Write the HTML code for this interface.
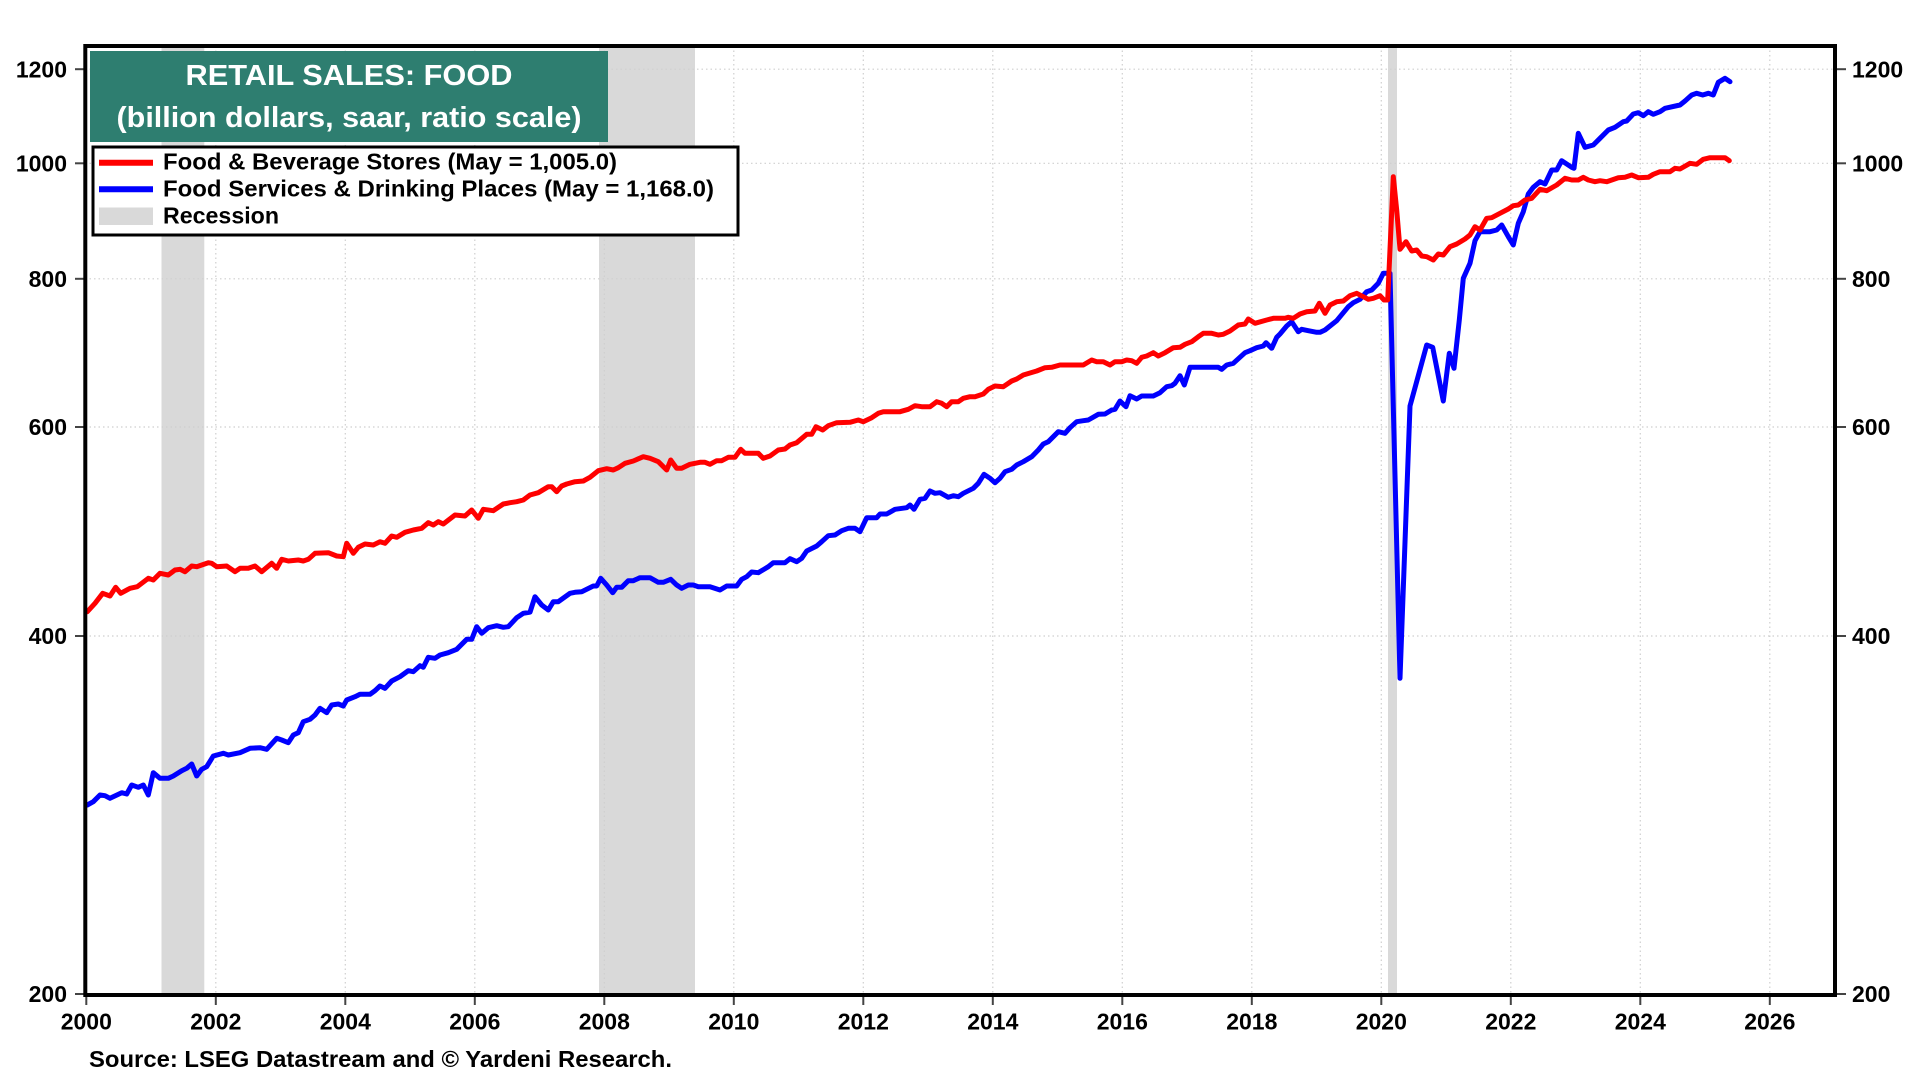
<!DOCTYPE html>
<html>
<head>
<meta charset="utf-8">
<style>
html,body{margin:0;padding:0;background:#fff;}
svg{display:block;}
text{font-family:"Liberation Sans",Arial,sans-serif;font-weight:bold;fill:#000;}
</style>
</head>
<body>
<svg width="1920" height="1080" viewBox="0 0 1920 1080" xmlns="http://www.w3.org/2000/svg">
<rect x="0" y="0" width="1920" height="1080" fill="#fff"/>
<defs>
<clipPath id="plot"><rect x="87" y="48" width="1746" height="945"/></clipPath>
</defs>
<!-- recession bands -->
<g fill="#d9d9d9">
<rect x="161.5" y="46" width="42.8" height="948"/>
<rect x="599" y="46" width="96" height="948"/>
<rect x="1388" y="46" width="9" height="948"/>
</g>
<!-- gridlines -->
<g stroke="#cfcfcf" stroke-width="1.2" stroke-dasharray="1.5 3" fill="none">
<line x1="85" y1="69.2" x2="1835" y2="69.2"/>
<line x1="85" y1="163.3" x2="1835" y2="163.3"/>
<line x1="85" y1="278.8" x2="1835" y2="278.8"/>
<line x1="85" y1="427" x2="1835" y2="427"/>
<line x1="85" y1="636" x2="1835" y2="636"/>
<line x1="215.8" y1="46" x2="215.8" y2="995"/>
<line x1="345.3" y1="46" x2="345.3" y2="995"/>
<line x1="474.8" y1="46" x2="474.8" y2="995"/>
<line x1="604.3" y1="46" x2="604.3" y2="995"/>
<line x1="733.8" y1="46" x2="733.8" y2="995"/>
<line x1="863.3" y1="46" x2="863.3" y2="995"/>
<line x1="992.8" y1="46" x2="992.8" y2="995"/>
<line x1="1122.3" y1="46" x2="1122.3" y2="995"/>
<line x1="1251.8" y1="46" x2="1251.8" y2="995"/>
<line x1="1381.3" y1="46" x2="1381.3" y2="995"/>
<line x1="1510.8" y1="46" x2="1510.8" y2="995"/>
<line x1="1640.3" y1="46" x2="1640.3" y2="995"/>
<line x1="1769.8" y1="46" x2="1769.8" y2="995"/>
</g>
<!-- data -->
<g clip-path="url(#plot)" fill="none" stroke-width="5" stroke-linejoin="round" stroke-linecap="round">
<polyline stroke="#0000ff" points="87.3,805 93.3,801.7 100,795 105,795.7 110,798.3 121.7,792.7 126.7,794 131.7,785 138.3,787.3 143.3,785 148.3,795 153.3,772.7 160,778.3 168.3,778.3 173.3,776 181.7,770.7 186.7,768.3 191.7,764 196.7,776 201.7,769.3 206.7,766.7 213.3,756 223.3,753.3 228.3,755 240,752.7 250,748.3 260,747.7 266.7,749.3 276.7,738.3 281.7,740 288.3,742.7 293.3,735 298.3,732.7 303.3,721.7 310,719.3 315,715 320,708.3 326.7,712.7 331.7,705 338.3,704 343.3,706 346.7,700 355,696.7 360,694.3 370,694.3 375,690.7 380,686 385,688.3 391.7,681 400,676.7 408.3,670.7 413.3,671.7 420,665.7 423.3,667.3 428.3,657.3 435,658.3 440,655 448.3,652.7 456.7,649.3 466.7,639.3 471.7,639.3 476.7,626.7 481.7,633.3 488.3,627.7 496.7,625.7 503.3,627.3 508.3,626.7 516.7,617.7 523.3,613.3 530,612.2 535,596.7 541.7,605 548.3,610 553.3,601.7 558.3,601.7 570,593.3 575,592.3 581.7,591.7 593.3,586 596.7,586 600.7,578.3 606.7,585 612.7,592.7 616.7,587.3 621.7,587.3 628.3,580.7 633.3,580.7 640,577.7 650,577.7 658.3,582.3 663.3,582.3 670.7,579.3 676.7,585 681.7,588.3 688.3,585 693.3,585 698.3,586.7 710,586.7 720,590 726.7,586 736.7,586 741.7,579.3 746.7,576.7 751.7,572 758.3,572.7 768.3,566.7 773.3,562.7 785,562.7 790,558.7 796.7,561.7 801.7,558.3 806.7,551 816.7,546 821.7,541.7 828.3,535.7 835,535 841.7,530.7 848.3,528.3 855,528.3 860,531.7 866.7,517.7 876.7,517.7 880,514 886.7,514 895,509.3 906.7,507.7 910,505 914,509.3 920,499.3 925,498.3 930,491 935,493.3 940,492.7 948.3,497.3 953.3,495.7 958.3,496.7 963.3,493.3 973.3,488.3 978.3,483.3 984,474.3 990,478.3 995,482.7 1000,478.3 1005,471.7 1011.7,469.3 1016.7,465 1023.3,461.7 1031.7,456.7 1038.3,450 1043.3,444 1048.3,441.7 1053.3,436.7 1058.3,431.7 1065,433.3 1070,427.7 1076.7,421.7 1083.3,420.7 1088.3,420 1098.3,414.3 1105,414 1111.7,410 1115,409.3 1120,401 1126,406.7 1130,395.7 1136.7,399 1141.7,396 1153.3,396 1160,392.7 1166.7,386.7 1171.7,385.7 1175,383.3 1180,375.7 1184.3,385 1190,367.3 1218.3,367.3 1221.7,369.3 1226.7,365 1233.3,363.3 1245,352.7 1250,350.7 1256.7,347.7 1263.3,346 1266,342.7 1271.7,348.3 1276.7,337.3 1280,334 1286.7,326 1291.7,321.7 1298.3,331.7 1301.7,329.3 1308.3,330.7 1316.7,332.3 1320,332.3 1325,330 1330,326 1336.7,320.7 1348.3,306.7 1353.3,302.7 1360,299.3 1366.7,291.7 1371.7,290 1378.3,283.3 1383.3,273.3 1390,273.3 1400,678.3 1410,406 1426.7,345 1432.7,347.3 1443.3,401 1449.3,353.3 1454,368.3 1459.3,320 1463.3,278.3 1470,263.3 1475,240.7 1480,231.7 1490,231.7 1496.7,230 1501.7,225 1508.3,236.7 1513.3,245 1518.3,223.3 1523.3,211.7 1528.3,194 1533.3,187.3 1540,181.7 1545,184 1551.7,170 1556.7,170 1561.7,160.7 1571.7,167.3 1574,168.3 1578.3,133.3 1585,147.3 1593.3,145 1600,138.3 1608.3,130 1615,127.3 1623.3,121.7 1626.7,121 1633.3,114 1638.3,112.7 1643.3,115.7 1648.3,111.7 1653.3,114.3 1660,111.7 1665,108.3 1680,105 1685,101 1691.7,95 1696.7,93.3 1702.7,95 1708.3,93.3 1713.3,95 1718.3,82.3 1725,78.3 1730,81.7"/>
<polyline stroke="#ff0000" points="87.3,611.7 95,603.3 102.7,593.3 110,596 115.7,587.3 120.7,593.3 130,588.3 137.3,586.7 148.3,578.3 153.3,580 160,573.3 168.3,575 175,570 180,569.3 185,571.7 191.7,566 196.7,566.7 208.3,562.7 211.7,563.3 216.7,566.7 226.7,566 235,571.7 240,568.3 248.3,568.3 255,566 261.7,571.7 271.7,563.3 276.7,568.3 281.7,559.3 288.3,561 298.3,560 303.3,561 308.3,559.3 315,553.3 328.3,552.7 336.7,556 343.3,556.7 346.7,543.3 353.3,553.3 358.3,547.3 365,544 373.3,545 380,541.7 385,543.3 391.7,536 396.7,537.3 405,532.3 413.3,530 421.7,528.3 428.3,522.7 433.3,525 438.3,521.7 443.3,524 455,515 465,516 471.7,510 478.3,518.3 483.3,509.3 493.3,510.7 503.3,504 510,502.7 516.7,501.7 523.3,500 530,495 538.3,492.7 548.3,486.7 551.7,486.7 556.7,491.7 561.7,486 566.7,484 575,481.7 583.3,481 590,477.3 598.3,470.7 606.7,468.7 613.3,470 618.3,467.7 625,463.3 633.3,461 643.3,456.7 650,458.3 658.3,461.7 666.7,470 670.7,460 676.7,468.3 681.7,468.3 690,464.3 700,462.3 705,462.3 710,464.3 716.7,460.7 721.7,460.7 728.3,457.3 735,457.3 740.7,449.3 745,453.3 758.3,453.3 763.3,458.3 770,456 778.3,450 785,449 790,445 796.7,442.7 806.7,434.3 811.7,434.3 816,426.7 822.7,430 828.3,425.7 836.7,422.7 850,422.3 858.3,420 863.3,421.7 871.7,417.7 878.3,413.3 883.3,411.7 900,411.7 908.3,409.3 915,405.7 921.7,406.7 930,406.7 936.7,401.7 941.7,403.3 946.7,406.7 951.7,401.7 958.3,401.7 963.3,398.3 970,396.7 975,396.7 983.3,394 988.3,389.3 995,386 1003.3,386.7 1011.7,381 1016.7,379 1023.3,375 1036.7,371 1045,367.7 1051.7,367.3 1060,365 1083.3,365 1091.7,360 1096.7,361.7 1103.3,361.7 1110,365 1115,361.7 1121.7,361.7 1126.7,360 1131.7,360.7 1136.7,363.3 1141.7,357.3 1146.7,356 1153.3,352.7 1158.3,356 1165,352.7 1173.3,347.7 1180,347.3 1185,344.3 1191.7,341.7 1198.3,336.7 1203.3,333.3 1211.7,333.3 1218.3,335 1223.3,334.3 1230,331 1238.3,325 1245,324 1248.3,319 1255,323.3 1266.7,320 1273.3,318.3 1285,318.3 1288.3,317.3 1293.3,318.3 1300,314 1306.7,311.7 1315,311 1319.3,303.3 1325,313.3 1330,305 1336.7,301.7 1343.3,301 1350,295.7 1356.7,293.3 1363.3,296.7 1368.3,299.3 1373.3,298.3 1380,295.7 1384,300 1387.7,300 1393.3,176.7 1396.7,210 1400,249.3 1406,241.7 1411.7,251 1416.7,250 1421.7,256 1426.7,256.7 1433.3,260 1438.3,254 1443.3,255 1450,246.7 1456.7,244 1465,239 1470,235 1475,226.7 1480,230 1486.7,218.3 1491.7,217.7 1500,213.3 1508.3,209 1513.3,205.7 1518.3,205 1525,200 1531.7,198.3 1540,189.3 1546.7,190.7 1556.7,185 1565,178.3 1571.7,180 1578.3,180 1583.3,177.3 1588.3,180 1595,181.7 1600,180.7 1606.7,181.7 1618.3,177.7 1625,177.3 1631.7,175 1638.3,177.7 1648.3,177.3 1653.3,174.3 1660,171.7 1670,171.7 1675,168.3 1680,169 1690,163.3 1696.7,164.3 1703.3,159.3 1710,157.7 1725,157.7 1729.3,160.7"/>
</g>
<!-- ticks -->
<g stroke="#444" stroke-width="2">
<line x1="75" y1="69.2" x2="84" y2="69.2"/>
<line x1="75" y1="163.3" x2="84" y2="163.3"/>
<line x1="75" y1="278.8" x2="84" y2="278.8"/>
<line x1="75" y1="427" x2="84" y2="427"/>
<line x1="75" y1="636" x2="84" y2="636"/>
<line x1="75" y1="994" x2="84" y2="994"/>
<line x1="1837" y1="69.2" x2="1846" y2="69.2"/>
<line x1="1837" y1="163.3" x2="1846" y2="163.3"/>
<line x1="1837" y1="278.8" x2="1846" y2="278.8"/>
<line x1="1837" y1="427" x2="1846" y2="427"/>
<line x1="1837" y1="636" x2="1846" y2="636"/>
<line x1="1837" y1="994" x2="1846" y2="994"/>
<line x1="86.3" y1="997" x2="86.3" y2="1005"/>
<line x1="215.8" y1="997" x2="215.8" y2="1005"/>
<line x1="345.3" y1="997" x2="345.3" y2="1005"/>
<line x1="474.8" y1="997" x2="474.8" y2="1005"/>
<line x1="604.3" y1="997" x2="604.3" y2="1005"/>
<line x1="733.8" y1="997" x2="733.8" y2="1005"/>
<line x1="863.3" y1="997" x2="863.3" y2="1005"/>
<line x1="992.8" y1="997" x2="992.8" y2="1005"/>
<line x1="1122.3" y1="997" x2="1122.3" y2="1005"/>
<line x1="1251.8" y1="997" x2="1251.8" y2="1005"/>
<line x1="1381.3" y1="997" x2="1381.3" y2="1005"/>
<line x1="1510.8" y1="997" x2="1510.8" y2="1005"/>
<line x1="1640.3" y1="997" x2="1640.3" y2="1005"/>
<line x1="1769.8" y1="997" x2="1769.8" y2="1005"/>
</g>
<!-- frame -->
<rect x="85.3" y="46" width="1749.7" height="949" fill="none" stroke="#000" stroke-width="4"/>
<!-- title box -->
<rect x="90" y="51" width="518" height="91" fill="#2e7e70"/>
<text x="349" y="85" font-size="29" text-anchor="middle" style="fill:#fff" textLength="327" lengthAdjust="spacingAndGlyphs">RETAIL SALES: FOOD</text>
<text x="349" y="127" font-size="29" text-anchor="middle" style="fill:#fff" textLength="465" lengthAdjust="spacingAndGlyphs">(billion dollars, saar, ratio scale)</text>
<!-- legend -->
<rect x="93" y="147" width="645" height="88" fill="#fff" stroke="#000" stroke-width="3"/>
<line x1="99" y1="162.7" x2="153" y2="162.7" stroke="#ff0000" stroke-width="6"/>
<line x1="99" y1="189.3" x2="153" y2="189.3" stroke="#0000ff" stroke-width="6"/>
<rect x="99" y="207.5" width="54" height="17.5" fill="#d9d9d9"/>
<text x="163" y="169.5" font-size="23" textLength="454" lengthAdjust="spacingAndGlyphs">Food &amp; Beverage Stores (May = 1,005.0)</text>
<text x="163" y="196.5" font-size="23" textLength="551" lengthAdjust="spacingAndGlyphs">Food Services &amp; Drinking Places (May = 1,168.0)</text>
<text x="163" y="223.5" font-size="23" textLength="116" lengthAdjust="spacingAndGlyphs">Recession</text>
<!-- y labels left -->
<g font-size="23" text-anchor="end">
<text x="67" y="77.5">1200</text>
<text x="67" y="171.5">1000</text>
<text x="67" y="287">800</text>
<text x="67" y="435">600</text>
<text x="67" y="644">400</text>
<text x="67" y="1002">200</text>
</g>
<g font-size="23" text-anchor="start">
<text x="1852" y="77.5">1200</text>
<text x="1852" y="171.5">1000</text>
<text x="1852" y="287">800</text>
<text x="1852" y="435">600</text>
<text x="1852" y="644">400</text>
<text x="1852" y="1002">200</text>
</g>
<!-- x labels -->
<g font-size="23" text-anchor="middle">
<text x="86.3" y="1029.5">2000</text>
<text x="215.8" y="1029.5">2002</text>
<text x="345.3" y="1029.5">2004</text>
<text x="474.8" y="1029.5">2006</text>
<text x="604.3" y="1029.5">2008</text>
<text x="733.8" y="1029.5">2010</text>
<text x="863.3" y="1029.5">2012</text>
<text x="992.8" y="1029.5">2014</text>
<text x="1122.3" y="1029.5">2016</text>
<text x="1251.8" y="1029.5">2018</text>
<text x="1381.3" y="1029.5">2020</text>
<text x="1510.8" y="1029.5">2022</text>
<text x="1640.3" y="1029.5">2024</text>
<text x="1769.8" y="1029.5">2026</text>
</g>
<text x="89" y="1067" font-size="23" textLength="583" lengthAdjust="spacingAndGlyphs">Source: LSEG Datastream and © Yardeni Research.</text>
</svg>
</body>
</html>
